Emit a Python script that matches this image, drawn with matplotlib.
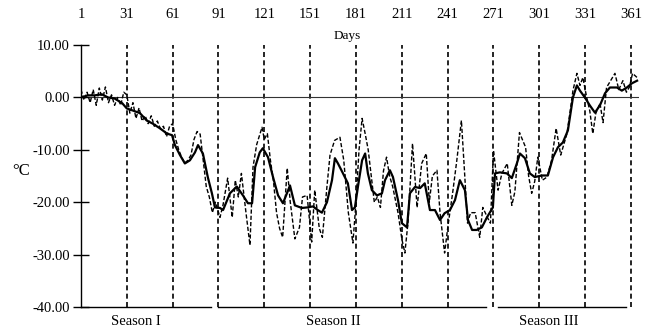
import matplotlib
matplotlib.use("Agg")
import matplotlib.pyplot as plt

# smoothed temperature (solid line)
smooth_day = [1, 5.6, 10, 14.7, 18.7, 23, 28, 31, 35, 39.6, 44, 48, 52.7, 57.3, 60.6, 62.5,
              65.8, 69, 72.3, 75.6, 77.6, 80.8, 84, 86.7, 88.7, 92, 94, 98.5, 103, 107, 110.3,
              113, 115, 118, 120, 123.4, 126.7, 130, 133.2, 135.8, 137.8, 141, 145.6, 149,
              152.8, 156, 158.7, 162, 165.3, 167.2, 169.2, 172.5, 175.7, 178.4, 180.3, 182.3,
              185, 187, 188.8, 191.4, 194.7, 198, 200, 203.2, 205.2, 208.5, 211, 214.4, 216.3,
              219.6, 223, 226, 229.4, 232.7, 236, 239, 242.5, 245.8, 249, 252.3, 254.3, 257,
              260, 263.4, 266.7, 270.6, 272, 275.2, 279.8, 283, 286.3, 288.3, 291.6, 294.8,
              298, 302.7, 306.6, 310, 313.2, 316.4, 319.7, 323, 325.6, 327.6, 330.8, 334, 337.4,
              340.7, 344, 347.2, 351.8, 355, 358.3, 361.6, 365]
smooth_temp = [0, 0.4, 0.4, 0.6, 0, -0.2, -1.1, -2.1, -2.5, -3, -4.4, -5, -5.9, -6.9, -7.2, -9.1,
               -11, -12.6, -12, -10.5, -9.1, -10.7, -15.2, -18.3, -21, -21.1, -21.5, -18.3, -17,
               -18.7, -20.2, -20.2, -13.3, -10.5, -9.7, -11.4, -15.2, -18.7, -20.2, -18.3, -16.8,
               -20.6, -21.1, -21, -20.8, -21.5, -22, -20, -15.8, -11.6, -12.6, -14.5, -16.4, -21.5,
               -21, -17, -12, -10.7, -14.5, -17.7, -18.7, -18.3, -15.8, -13.9, -15.2, -19.6, -24,
               -24.8, -18.3, -17.1, -17.3, -16.4, -21.5, -21.5, -23.4, -22.1, -21.5, -19.6, -15.8,
               -17.7, -23.4, -25.3, -25.3, -24.8, -22.9, -21, -14.5, -14.3, -14.5, -15.4, -12.6,
               -10.7, -11.6, -14.5, -15.2, -14.9, -14.9, -11.4, -9.5, -8.6, -6.3, 0, 2.3, 1.3, 0,
               -1.5, -2.9, -1.5, 0.8, 1.9, 1.9, 1.3, 1.9, 2.7, 3.2]

# daily temperature (dashed line)
daily_day = [1, 3, 5, 7, 9, 11, 13, 15, 17, 19, 21, 23, 25, 27, 29, 31, 33, 35, 37, 39, 41, 43,
             45, 47, 49, 51, 53, 55, 57, 59, 61, 63, 65, 67, 69, 71, 73, 75, 77, 79, 81, 83, 85,
             87, 89, 92, 94, 97, 100, 102, 104, 106, 109, 111.6, 113.6, 116, 119.5, 121, 123,
             125, 127, 129, 131, 133, 136, 138, 141, 144, 146, 149, 152, 154, 157, 159, 162, 164,
             167, 170.5, 173, 176, 179, 181, 183, 185, 187, 189, 191, 193, 195, 197, 199, 201,
             203, 205, 208.5, 211, 213, 215, 218, 221, 224, 227, 229, 231, 234, 236, 239, 241,
             244.5, 247, 250, 252, 254, 256, 259, 262, 264, 267, 269, 271, 274, 276.5, 280, 283,
             285, 288, 292, 294, 296, 298, 300, 303, 306, 309, 312, 315, 317, 319, 321, 323,
             325.6, 327.6, 329.5, 332, 334, 336, 338, 340.7, 342.7, 345, 348.5, 350.5, 353,
             355.7, 358, 360, 362, 365]
daily_temp = [1.5, -0.5, 1, -1, 1.5, -1.5, 1.8, -0.5, 2, -1, 0.5, -1.5, 0, -1.5, 1, 0.5, -3, -1,
              -4, -2, -4.5, -3.5, -5, -3.5, -5.5, -4.5, -6, -5.5, -7.5, -5.5, -5, -8, -10, -11.5,
              -12.5, -12, -11, -8, -6.5, -7, -12, -17, -19, -22, -20, -22.9, -20.5, -15.4, -22.9,
              -15.8, -19, -14.5, -22, -28.2, -13.3, -9, -5.7, -8, -6.9, -12, -16, -22, -25, -26.7,
              -13.5, -20, -27, -24.8, -19, -18.7, -27.6, -17.7, -25, -26.7, -17, -11, -8.2, -7.6,
              -12, -22, -27.8, -20, -10, -4, -6.9, -10, -15, -20, -19, -21, -14, -11.4, -15, -17,
              -22, -27, -29.7, -24, -8.8, -21, -12.6, -10.7, -20, -15, -13.9, -22, -29.7, -25,
              -17.7, -12, -4.4, -14, -24, -22, -22, -26.7, -21, -22.9, -24, -10.1, -17.7, -14.5,
              -12.6, -20.6, -18, -6.7, -9.5, -15, -18.3, -16, -11.4, -15.8, -15.2, -12, -5.9, -11,
              -9, -7, -3, 1.3, 4.6, 2.3, 3.8, 0, -2.5, -6.9, -3, -1.1, -4.8, 1.9, 3.6, 4.6, 1.5,
              3.2, 1, 2, 4.6, 3.8]

tick_days = [1, 31, 61, 91, 121, 151, 181, 211, 241, 271, 301, 331, 361]
y_ticks = [10, 0, -10, -20, -30, -40]
seasons = ["Season I", "Season II", "Season III"]
season_start = [1, 91, 274]
season_end = [86, 266, 358]
season_label_day = [37, 166, 307]

plt.rcParams['font.family'] = ['Liberation Serif', 'DejaVu Serif']

fig = plt.figure(figsize=(6.53, 3.29), dpi=100)
ax = fig.add_axes([0.124, 0.067, 0.854, 0.796])

ax.set_xlim(1, 366)
ax.set_ylim(-40, 10)

# vertical month markers
for d in tick_days[1:]:
    ax.axvline(d, color='black', lw=1.2, ls=(0, (3, 2)), zorder=1)

ax.axhline(0, color='#333333', lw=0.8, zorder=1)

ax.plot(daily_day, daily_temp, color='black', lw=1.0, ls=(0, (3, 1.5)), zorder=2)
ax.plot(smooth_day, smooth_temp, color='black', lw=1.6, zorder=3)

# axes styling
for side in ['top', 'right', 'bottom']:
    ax.spines[side].set_visible(False)
ax.spines['left'].set_linewidth(1.0)

ax.set_yticks(y_ticks)
ax.set_yticklabels([f"{v:.2f}" for v in y_ticks], fontsize=10.5)
ax.tick_params(axis='y', direction='inout', length=12, width=1.0, pad=2)

ax.set_xticks(tick_days)
ax.xaxis.tick_top()
ax.tick_params(axis='x', length=0, pad=17, labelsize=10.5)

# broken bottom axis, one piece per season
for name, s, e, lab in zip(seasons, season_start, season_end, season_label_day):
    ax.plot([s, e], [-40, -40], color='black', lw=1.0, clip_on=False, zorder=4)
    ax.text(lab, -41.5, name, ha='center', va='top', fontsize=10.5)

ax.text(175, 11.8, "Days", ha='center', va='center', fontsize=9.5)
fig.text(0.033, 0.48, "°C", ha='center', va='center', fontsize=12)

fig.savefig("out.png", dpi=100)
